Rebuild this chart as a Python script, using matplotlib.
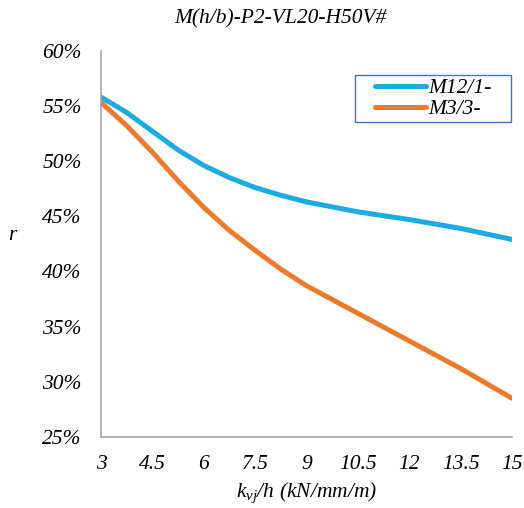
import matplotlib
matplotlib.use('Agg')
import matplotlib.pyplot as plt
from matplotlib.patches import Rectangle
from matplotlib.ticker import FuncFormatter

plt.rcParams['font.family'] = 'Liberation Serif'
plt.rcParams['font.style'] = 'italic'
plt.rcParams['mathtext.fontset'] = 'custom'
plt.rcParams['mathtext.it'] = 'Liberation Serif:italic'
plt.rcParams['mathtext.rm'] = 'Liberation Serif:italic'

# stiffness k_vj/h (kN/mm/m)
kvj = [3, 3.75, 4.5, 5.25, 6, 6.75, 7.5, 8.25, 9, 10.5, 12, 13.5, 15]
# ratio r (%)
r_m12 = [55.8, 54.4, 52.7, 51.0, 49.6, 48.5, 47.6, 46.9, 46.3, 45.4, 44.7, 43.9, 42.9]
r_m3 = [55.3, 53.2, 50.8, 48.2, 45.8, 43.7, 41.9, 40.2, 38.7, 36.2, 33.7, 31.2, 28.5]
series_labels = ['M12/1-', 'M3/3-']
xticks = [3, 4.5, 6, 7.5, 9, 10.5, 12, 13.5, 15]

fig = plt.figure(figsize=(5.24, 5.08), dpi=100)
ax = fig.add_axes([0.193, 0.140, 0.784, 0.760])

ax.plot(kvj, r_m12, color='#1AABE2', lw=3.6, solid_capstyle='round',
        solid_joinstyle='round', label=series_labels[0])
ax.plot(kvj, r_m3, color='#EE7B2C', lw=3.6, solid_capstyle='round',
        solid_joinstyle='round', label=series_labels[1])

ax.set_xlim(3, 15)
ax.set_ylim(25, 60)
ax.set_xticks(xticks)
ax.set_xticklabels(['{:g}'.format(t) for t in xticks])
ax.set_yticks(range(25, 61, 5))
ax.yaxis.set_major_formatter(FuncFormatter(lambda v, p: '{:.0f}%'.format(v)))
ax.tick_params(length=0, labelsize=15.5, pad=13)
ax.tick_params(axis='y', pad=14)

for s in ['top', 'right']:
    ax.spines[s].set_visible(False)
for s in ['left', 'bottom']:
    ax.spines[s].set_color('#A6A6A6')
    ax.spines[s].set_linewidth(1.2)

fig.text(0.535, 0.962, 'M(h/b)-P2-VL20-H50V#', fontsize=15.5, ha='center', va='center')
ax.set_xlabel('$k_{vj}$/h (kN/mm/m)', fontsize=15.5, labelpad=5)
ax.set_ylabel('r', fontsize=15.5, rotation=0)
ax.yaxis.set_label_coords(-0.215, 0.497)

leg = ax.legend(loc='upper right', bbox_to_anchor=(0.955, 0.935), fontsize=15.5,
                frameon=False, handlelength=2.35, handletextpad=0.1,
                borderpad=0.1, labelspacing=0.05, borderaxespad=0)

# excel-style legend box: wider side padding than matplotlib gives
fig.canvas.draw()
bb = leg.get_window_extent().transformed(fig.transFigure.inverted())
padx, pady = 18 / 524, 1 / 508
fig.patches.append(Rectangle((bb.x0 - padx, bb.y0 - pady), bb.width + 2 * padx,
                             bb.height + 2 * pady, transform=fig.transFigure,
                             fill=False, edgecolor='#4472C4', lw=1.0))

fig.savefig('out.png', dpi=100)
